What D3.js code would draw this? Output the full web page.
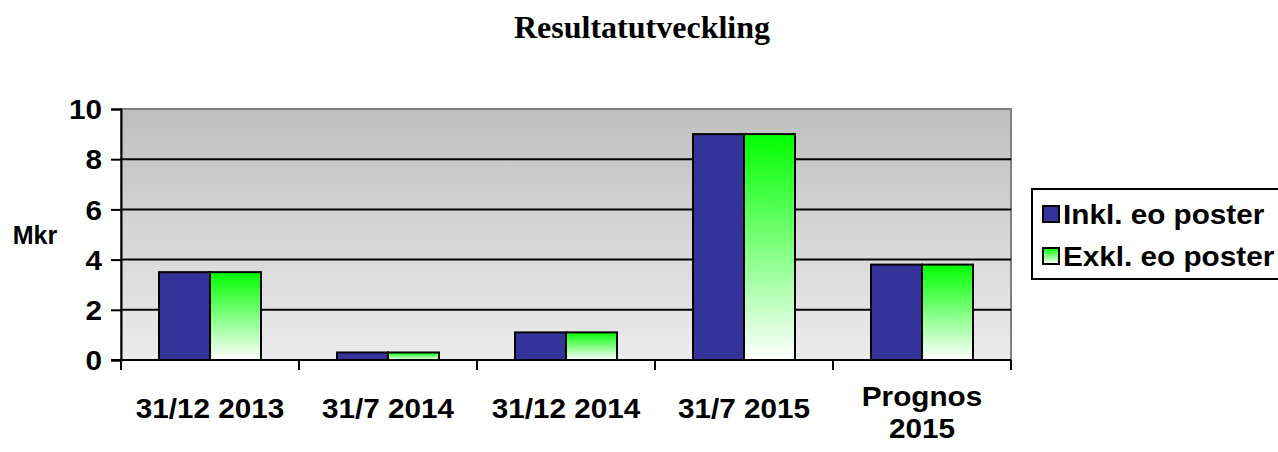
<!DOCTYPE html>
<html>
<head>
<meta charset="utf-8" />
<title>Resultatutveckling</title>
<style>
  body { margin: 0; background: #fff; }
  text { font-family: "Liberation Sans", Arial, sans-serif; font-weight: bold; fill: #000; }
  .title { font-family: "Liberation Serif", "Times New Roman", serif; }
</style>
</head>
<body>
<div id="chart"></div>
<script src="https://d3js.org/d3.v7.min.js"></script>
<script>
// data
var categories = ["31/12 2013", "31/7 2014", "31/12 2014", "31/7 2015", "Prognos 2015"];
var seriesNames = ["Inkl. eo poster", "Exkl. eo poster"];
var inklValues = [3.5, 0.3, 1.1, 9.0, 3.8];
var exklValues = [3.5, 0.3, 1.1, 9.0, 3.8];
var yTicks = [0, 2, 4, 6, 8, 10];

var width = 1278, height = 452;
var plotLeft = 121, plotRight = 1011, plotTop = 109, plotBottom = 360;
var stretch = 1.1; // text in the original is a bit wide

var svg = d3.select("#chart").append("svg")
  .attr("width", width).attr("height", height);

var defs = svg.append("defs");
var bg = defs.append("linearGradient").attr("id", "bgGrad")
  .attr("x1", 0).attr("y1", 0).attr("x2", 0).attr("y2", 1);
bg.append("stop").attr("offset", "0%").attr("stop-color", "#bfbfbf");
bg.append("stop").attr("offset", "100%").attr("stop-color", "#ececec");

var gr = defs.append("linearGradient").attr("id", "greenGrad")
  .attr("x1", 0).attr("y1", 0).attr("x2", 0).attr("y2", 1);
gr.append("stop").attr("offset", "0%").attr("stop-color", "#00ff00");
gr.append("stop").attr("offset", "100%").attr("stop-color", "#ffffff");

var x = d3.scaleBand().domain(categories).range([plotLeft, plotRight]).paddingInner(0).paddingOuter(0);
var y = d3.scaleLinear().domain([0, 10]).range([plotBottom, plotTop]);

// title
svg.append("text").attr("class", "title")
  .attr("x", 642).attr("y", 38)
  .attr("text-anchor", "middle")
  .style("font-size", "32px")
  .text("Resultatutveckling");

// plot background
svg.append("rect")
  .attr("x", plotLeft).attr("y", plotTop)
  .attr("width", plotRight - plotLeft).attr("height", plotBottom - plotTop)
  .attr("fill", "url(#bgGrad)")
  .attr("stroke", "#808080").attr("stroke-width", 2);

// gridlines
svg.append("g").selectAll("line")
  .data(yTicks.filter(function(d){ return d > 0 && d < 10; }))
  .join("line")
  .attr("x1", plotLeft).attr("x2", plotRight)
  .attr("y1", function(d){ return y(d); }).attr("y2", function(d){ return y(d); })
  .attr("stroke", "#000").attr("stroke-width", 2);

// bars
var barW = 51;
var groups = svg.append("g").selectAll("g")
  .data(categories)
  .join("g")
  .attr("transform", function(d){ return "translate(" + (x(d) + x.bandwidth() / 2) + ",0)"; });

groups.append("rect")
  .attr("x", -barW).attr("width", barW)
  .attr("y", function(d, i){ return y(inklValues[i]); })
  .attr("height", function(d, i){ return y(0) - y(inklValues[i]); })
  .attr("fill", "#333399").attr("stroke", "#000").attr("stroke-width", 2);

groups.append("rect")
  .attr("x", 0).attr("width", barW)
  .attr("y", function(d, i){ return y(exklValues[i]); })
  .attr("height", function(d, i){ return y(0) - y(exklValues[i]); })
  .attr("fill", "url(#greenGrad)").attr("stroke", "#000").attr("stroke-width", 2);

// y axis
var yAxis = svg.append("g")
  .attr("transform", "translate(" + plotLeft + ",0)")
  .call(d3.axisLeft(y).tickValues(yTicks).tickSize(10).tickPadding(0));
yAxis.select(".domain").attr("stroke", "#000").attr("stroke-width", 2);
yAxis.selectAll(".tick line").attr("stroke", "#000").attr("stroke-width", 2);
yAxis.selectAll(".tick text")
  .attr("x", null).attr("dy", "0.36em")
  .attr("transform", "translate(-19,0) scale(" + stretch + ",1)")
  .style("font-size", "27px").style("font-family", "Liberation Sans, Arial, sans-serif")
  .style("font-weight", "bold").attr("fill", "#000");

// x axis
var xAxis = svg.append("g")
  .attr("transform", "translate(0," + plotBottom + ")");
xAxis.append("line")
  .attr("x1", plotLeft - 10).attr("x2", plotRight)
  .attr("y1", 0).attr("y2", 0)
  .attr("stroke", "#000").attr("stroke-width", 2);
xAxis.selectAll(".xt")
  .data(d3.range(categories.length + 1))
  .join("line").attr("class", "xt")
  .attr("x1", function(i){ return plotLeft + i * x.bandwidth(); })
  .attr("x2", function(i){ return plotLeft + i * x.bandwidth(); })
  .attr("y1", 0).attr("y2", 10)
  .attr("stroke", "#000").attr("stroke-width", 2);

var labels = xAxis.selectAll(".xl")
  .data(categories)
  .join("text").attr("class", "xl")
  .attr("text-anchor", "middle")
  .style("font-size", "27px")
  .attr("transform", function(d){
    return "translate(" + (x(d) + x.bandwidth() / 2) + ",0) scale(" + stretch + ",1)";
  });
labels.each(function(d){
  var t = d3.select(this);
  if (d === "Prognos 2015") {
    t.append("tspan").attr("x", 0).attr("y", 46).text("Prognos");
    t.append("tspan").attr("x", 0).attr("y", 78).text("2015");
  } else {
    t.attr("x", 0).attr("y", 58).text(d);
  }
});

// y label
svg.append("text")
  .attr("x", 35).attr("y", 244)
  .attr("text-anchor", "middle")
  .style("font-size", "25px")
  .text("Mkr");

// legend
var legend = svg.append("g").attr("transform", "translate(1032,189)");
legend.append("rect")
  .attr("x", 0).attr("y", 0).attr("width", 260).attr("height", 90)
  .attr("fill", "#fff").attr("stroke", "#000").attr("stroke-width", 2);
var lg = defs.append("linearGradient").attr("id", "legGrad")
  .attr("x1", 0).attr("y1", 0).attr("x2", 0).attr("y2", 1);
lg.append("stop").attr("offset", "0%").attr("stop-color", "#00ff00");
lg.append("stop").attr("offset", "100%").attr("stop-color", "#ffffff");
var fills = ["#333399", "url(#legGrad)"];
var items = legend.selectAll(".item")
  .data(seriesNames)
  .join("g").attr("class", "item")
  .attr("transform", function(d, i){ return "translate(0," + (25 + i * 42) + ")"; });
items.append("rect")
  .attr("x", 11).attr("y", -8).attr("width", 16).attr("height", 16)
  .attr("fill", function(d, i){ return fills[i]; })
  .attr("stroke", "#000").attr("stroke-width", 2);
items.append("text")
  .attr("transform", "translate(31,10) scale(1.1,1)")
  .style("font-size", "27px")
  .text(function(d){ return d; });
</script>
</body>
</html>
